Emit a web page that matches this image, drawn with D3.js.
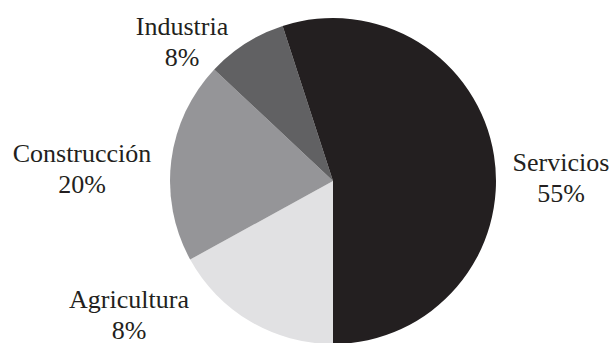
<!DOCTYPE html>
<html>
<head>
<meta charset="utf-8">
<script src="https://cdn.jsdelivr.net/npm/d3@7"></script>
<style>
  body { margin: 0; background: #fff; }
  text { font-family: "Liberation Serif", "Times New Roman", serif; fill: #231f20; }
</style>
</head>
<body>
<div id="chart"></div>
<script>
// slices in drawing order, clockwise from the bottom
var sectors = ["Agricultura", "Construcción", "Industria", "Servicios"];
var shares = [17, 20, 8, 55];            // slice sizes
var pctLabels = ["8%", "20%", "8%", "55%"]; // text as printed on the chart
var colors = ["#e1e1e3", "#959598", "#616163", "#231f20"];

var width = 613, height = 343;
var cx = 333, cy = 181, radius = 163;

// label anchor points (baseline of the first line)
var labelPos = [[129, 308], [82, 162], [182, 35], [561, 171]];

var svg = d3.select("#chart").append("svg")
    .attr("width", width)
    .attr("height", height);

var g = svg.append("g").attr("transform", "translate(" + cx + "," + cy + ")");

var pie = d3.pie()
    .sort(null)
    .startAngle(Math.PI)
    .endAngle(3 * Math.PI);

var arc = d3.arc().innerRadius(0).outerRadius(radius);

var data = pie(shares);

g.selectAll("path")
    .data(data)
    .enter().append("path")
    .attr("d", arc)
    .attr("fill", function(d, i) { return colors[i]; });

var labels = svg.selectAll(".lbl")
    .data(sectors)
    .enter().append("text")
    .attr("class", "lbl")
    .attr("text-anchor", "middle")
    .attr("font-size", 26)
    .attr("x", function(d, i) { return labelPos[i][0]; })
    .attr("y", function(d, i) { return labelPos[i][1]; });

labels.append("tspan")
    .text(function(d) { return d; });

labels.append("tspan")
    .attr("x", function(d, i) { return labelPos[i][0]; })
    .attr("dy", 31)
    .text(function(d, i) { return pctLabels[i]; });
</script>
</body>
</html>
